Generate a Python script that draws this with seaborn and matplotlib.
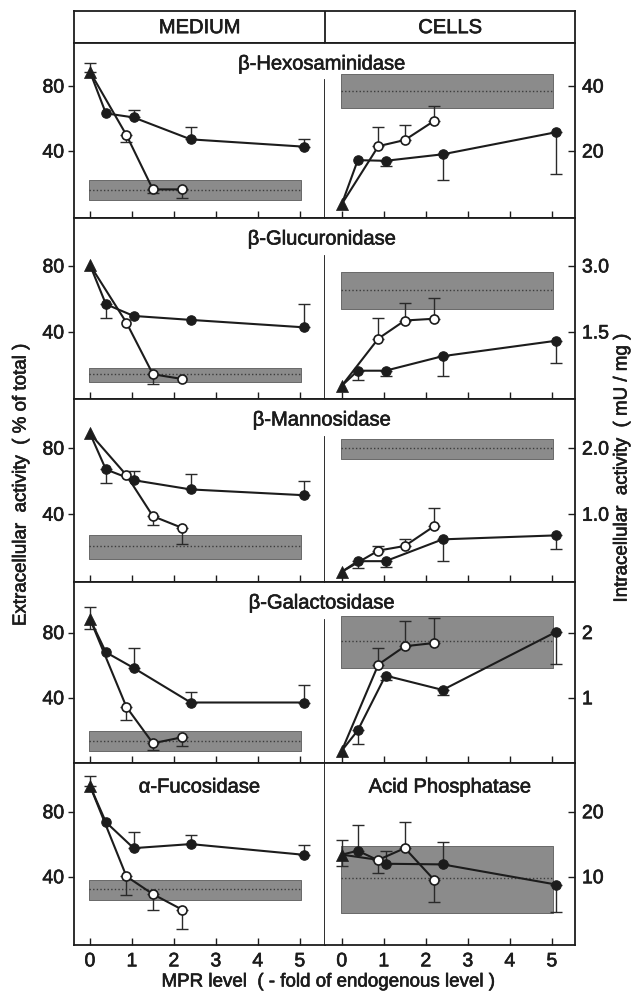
import matplotlib
matplotlib.use('Agg')
import matplotlib.pyplot as plt
import matplotlib.patheffects as pe
import numpy as np
import seaborn as sns

sns.set_theme(style='ticks')
plt.rcParams['font.family'] = ['Liberation Sans', 'DejaVu Sans']

# ---- data ----
enzymes = ['β-Hexosaminidase', 'β-Glucuronidase', 'β-Mannosidase',
           'β-Galactosidase', 'α-Fucosidase']
last_cell_title = 'Acid Phosphatase'

# MPR level (fold of endogenous level) for the two cell lines
x_closed = [0.38, 1.04, 2.4, 5.1]
x_open = [0.87, 1.5, 2.2]
band_x = [-0.03, 5.03]

# medium: extracellular activity (% of total)
med_tri = [88.8, 80.6, 88.9, 88.4, 96.0]
med_tri_up = [5.2, 0, 0, 7.0, 5.7]
med_tri_dn = [0, 0, 0, 6.4, 0]
med_closed = [[63.2, 60.7, 47.2, 42.7],
              [56.8, 49.7, 47.3, 42.8],
              [67.1, 60.6, 55.0, 51.5],
              [67.9, 58.3, 37.1, 37.1],
              [73.6, 57.6, 60.1, 53.5]]
med_closed_err = [[0, 4.5, 7.4, 4.5],
                  [-8.5, 0, 0, 14.0],
                  [-8.0, 5.7, 9.2, 8.7],
                  [0, 12.0, 6.4, 10.5],
                  [0, 9.7, 5.7, 6.2]]
med_open = [[49.8, 16.4, 16.4],
            [45.6, 14.4, 11.5],
            [63.6, 38.8, 31.7],
            [34.3, 12.1, 15.8],
            [40.2, 29.3, 19.7]]
med_open_err = [[-4.0, -2.5, -5.5],
                [0, -6.0, 0],
                [0, -5.5, -9.5],
                [-7.8, -4.0, -5.4],
                [-11.3, -10.0, -11.9]]
med_band = [(9.8, 16.0, 22.2), (9.9, 14.5, 18.0), (13.2, 20.8, 27.3),
            (7.6, 13.7, 19.9), (25.8, 32.4, 38.2)]

# cells: intracellular activity (mU / mg)
cell_tri = [3.7, 0.28, 0.13, 0.19, 13.4]
cell_tri_up = [0, 0, 0, 0, 2.2]
cell_tri_dn = [0, 0, 0, 0, 1.8]
cell_closed = [[17.2, 17.0, 19.0, 25.8],
               [0.62, 0.62, 0.95, 1.30],
               [0.29, 0.29, 0.62, 0.68],
               [0.50, 1.34, 1.12, 2.01],
               [14.0, 12.0, 11.9, 8.8]]
cell_closed_err = [[0, -1.5, -7.9, -12.9],
                   [-0.21, -0.12, -0.46, -0.51],
                   [-0.11, -0.09, -0.33, -0.20],
                   [-0.21, -0.07, -0.07, -0.49],
                   [3.9, 2.0, 3.4, -4.2]]
cell_open = [[21.5, 23.4, 29.3],
             [1.35, 1.76, 1.80],
             [0.45, 0.52, 0.82],
             [1.51, 1.79, 1.84],
             [12.6, 14.4, 9.5]]
cell_open_err = [[6.0, 4.6, 4.7],
                 [0.47, 0.39, 0.48],
                 [0.07, 0.11, 0.27],
                 [0.25, 0.39, 0.39],
                 [-2.0, 4.1, -3.4]]
cell_band = [(33.1, 38.6, 43.7), (2.02, 2.45, 2.85), (1.83, 2.0, 2.14),
             (1.46, 1.87, 2.25), (4.5, 9.85, 14.8)]

# axis ticks
med_yticks = [40, 80]
cell_yticks = [[20, 40], [1.5, 3.0], [1.0, 2.0], [1, 2], [10, 20]]
cell_ytick_labels = [['20', '40'], ['1.5', '3.0'], ['1.0', '2.0'], ['1', '2'], ['10', '20']]
xticks = [0, 1, 2, 3, 4, 5]

# ---- layout (pixels of a 644 x 998 figure) ----
W, H = 644, 998
X_L, X_M, X_R = 74, 325, 575
HEAD_TOP = 11
rows = [43, 218, 399, 582, 763, 945]
med_ylim = [(-1.2, 106.5), (-0.6, 109), (-1, 109.7), (0, 111), (-2, 110)]
cell_scale = [0.5, 3 / 80, 1 / 40, 1 / 40, 1 / 4]
INK = '#1c1c1c'
LW = 1.3
# printed type is heavier than the plain font, thicken it a little
BOLDEN = [pe.withStroke(linewidth=0.45, foreground=INK)]


def px_axes(x0, x1, top, bottom):
    return fig.add_axes([x0 / W, 1 - bottom / H, (x1 - x0) / W, (bottom - top) / H])


def style_frame(ax):
    for s in ax.spines.values():
        s.set_color(INK)
        s.set_linewidth(LW)
    ax.set_facecolor('white')


def put_text(x, y, s, **kw):
    t = fig.text(x, y, s, color=INK, **kw)
    t.set_path_effects(BOLDEN)
    return t


def draw_errors(ax, xs, ys, errs):
    for x, y, e in zip(xs, ys, errs):
        if e == 0:
            continue
        lo, hi = (abs(e), 0) if e < 0 else (0, e)
        ax.errorbar([x], [y], yerr=[[lo], [hi]], fmt='none', ecolor='#2a2a2a',
                    elinewidth=1.0, capsize=4.5, capthick=1.0, zorder=2)


def draw_panel(ax, tri, tri_up, tri_dn, closed, closed_err, opn, opn_err, band):
    lo, mid, hi = band
    ax.fill_between(band_x, [lo, lo], [hi, hi], color='#8b8b8b',
                    edgecolor='#5a5a5a', linewidth=0.6, zorder=1)
    ax.plot(band_x, [mid, mid], color='#3c3c3c', lw=1.0, ls=(0, (1, 1.6)), zorder=1.5)

    # error bars
    if tri_up or tri_dn:
        ax.errorbar([0], [tri], yerr=[[tri_dn], [tri_up]], fmt='none', ecolor='#2a2a2a',
                    elinewidth=1.0, capsize=4.5, capthick=1.0, zorder=2)
    draw_errors(ax, x_closed, closed, closed_err)
    draw_errors(ax, x_open, opn, opn_err)

    # connecting lines (both start at the MPR-deficient triangle)
    sns.lineplot(x=[0] + x_open, y=[tri] + opn, ax=ax, color=INK, lw=1.5,
                 sort=False, estimator=None, legend=False, zorder=3)
    sns.lineplot(x=[0] + x_closed, y=[tri] + closed, ax=ax, color=INK, lw=1.5,
                 sort=False, estimator=None, legend=False, zorder=3)

    # markers
    sns.scatterplot(x=x_closed, y=closed, ax=ax, color=INK, edgecolor=INK,
                    s=46, linewidth=0.8, legend=False, zorder=4)
    sns.scatterplot(x=x_open, y=opn, ax=ax, color='white', edgecolor=INK,
                    s=42, linewidth=1.2, legend=False, zorder=4)
    sns.scatterplot(x=[0], y=[tri], ax=ax, marker='^', color=INK, edgecolor=INK,
                    s=75, linewidth=0.5, legend=False, zorder=5)


fig = plt.figure(figsize=(W / 100, H / 100), dpi=100)
fig.patch.set_facecolor('white')

# header row
hax = px_axes(X_L, X_R, HEAD_TOP, rows[0])
style_frame(hax)
hax.set_xlim(X_L, X_R)
hax.set_ylim(0, 1)
hax.set_xticks([])
hax.set_yticks([])
hax.axvline(X_M, color=INK, lw=LW)
for cx, lab in [((X_L + X_M) / 2, 'MEDIUM'), ((X_M + X_R) / 2, 'CELLS')]:
    t = hax.text(cx, 0.48, lab, ha='center', va='center', fontsize=14.5, color=INK)
    t.set_path_effects(BOLDEN)

for i in range(5):
    top, bottom = rows[i], rows[i + 1]
    last = i == 4
    ylo, yhi = med_ylim[i]
    f = cell_scale[i]

    axl = px_axes(X_L, X_M, top, bottom)
    axr = px_axes(X_M, X_R, top, bottom)
    for ax in (axl, axr):
        style_frame(ax)
        ax.set_xticks(xticks)
        ax.tick_params(axis='x', direction='in', length=5, width=1.0, color=INK,
                       labelsize=14, labelcolor=INK, labelbottom=last, pad=6)
        ax.grid(False)

    draw_panel(axl, med_tri[i], med_tri_up[i], med_tri_dn[i], med_closed[i],
               med_closed_err[i], med_open[i], med_open_err[i], med_band[i])
    draw_panel(axr, cell_tri[i], cell_tri_up[i], cell_tri_dn[i], cell_closed[i],
               cell_closed_err[i], cell_open[i], cell_open_err[i], cell_band[i])

    axl.set_xlim(-0.38, 5.6)
    axr.set_xlim(-0.40, 5.55)
    axl.set_ylim(ylo, yhi)
    axr.set_ylim(ylo * f, yhi * f)

    axl.set_yticks(med_yticks)
    axl.tick_params(axis='y', direction='out', length=4, width=1.0, color=INK,
                    labelsize=14, labelcolor=INK, pad=3)
    axr.set_yticks(cell_yticks[i])
    axr.set_yticklabels(cell_ytick_labels[i])
    axr.tick_params(axis='y', left=False, right=True, labelleft=False, labelright=True,
                    direction='in', length=5, width=1.0, color=INK,
                    labelsize=14, labelcolor=INK, pad=5)
    axr.spines['left'].set_visible(False)
    if not last:
        axl.spines['right'].set_bounds(ylo, ylo + 0.79 * (yhi - ylo))
    for ax in (axl, axr):
        ax.set_xlabel('')
        ax.set_ylabel('')
        for lbl in ax.get_xticklabels() + ax.get_yticklabels():
            lbl.set_path_effects(BOLDEN)

    if not last:
        put_text(X_M / W - 0.005, 1 - (top + 21) / H, enzymes[i], ha='center',
                 va='center', fontsize=14.5)
    else:
        put_text((X_L + X_M) / 2 / W, 1 - (top + 24) / H, enzymes[i], ha='center',
                 va='center', fontsize=14.5)
        put_text((X_M + X_R) / 2 / W, 1 - (top + 24) / H, last_cell_title, ha='center',
                 va='center', fontsize=14.5)

put_text(21 / W, 1 - 485 / H, 'Extracellular  activity  ( % of total )', rotation=90,
         ha='center', va='center', fontsize=13.5)
put_text(622 / W, 1 - 468 / H, 'Intracellular  activity  ( mU / mg )', rotation=90,
         ha='center', va='center', fontsize=13.5)
put_text(328 / W, 1 - 982 / H, 'MPR level  ( - fold of endogenous level )',
         ha='center', va='center', fontsize=13.5)

fig.savefig('out.png', dpi=100, facecolor='white')
